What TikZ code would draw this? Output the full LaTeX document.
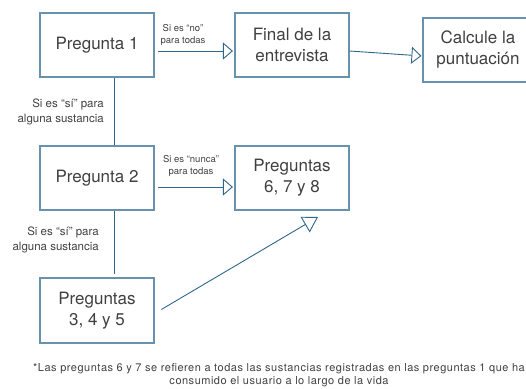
\documentclass[tikz,border=0pt]{standalone}
\usepackage{fontspec}
\setmainfont{TeX Gyre Heros}
\newfontfamily\widefont[LetterSpace=4.6]{TeX Gyre Heros}
\usetikzlibrary{arrows.meta}
\definecolor{boxblue}{RGB}{104,146,172}
\definecolor{lineblue}{RGB}{46,102,138}
\definecolor{textgray}{RGB}{64,64,64}

\begin{document}
\begin{tikzpicture}[x=1pt, y=-1pt,
    box/.style={draw=boxblue, line width=1.1pt, minimum width=114pt, minimum height=64pt,
      align=center, text=textgray, font=\fontsize{17}{21}\selectfont, inner sep=0pt},
    flow/.style={draw=lineblue, line width=0.9pt},
    opentip/.style={-{Triangle[open, length=10pt, width=17pt]}},
    bigtip/.style={-{Triangle[open, length=15pt, width=18pt]}},
    cond/.style={text=textgray, font=\fontsize{9.5}{12}\selectfont, align=center, inner sep=0pt},
    condleft/.style={text=textgray, font=\fontsize{11.5}{15}\selectfont, align=right,
      inner sep=0pt, anchor=east},
    note/.style={text=textgray, font=\widefont\fontsize{11}{13}\selectfont, align=center, inner sep=0pt}]
  \useasboundingbox (0,0) rectangle (526,388);

  % Question boxes
  \node[box] (p1) at (97,45) {Pregunta 1};
  \node[box] (fin) at (292,45) {Final de la\\entrevista};
  \node[box, minimum width=110pt] (calc) at (478,50) {Calcule la\\puntuación};
  \node[box] (p2) at (97,178) {Pregunta 2};
  \node[box] (p678) at (292,178) {Preguntas\\6, 7 y 8};
  \node[box, minimum height=65pt] (p345) at (97,310.5) {Preguntas\\3, 4 y 5};

  % Horizontal arrows
  \draw[flow, opentip, shorten <=3pt, shorten >=1.5pt] ([yshift=-6pt]p1.east) -- ([yshift=-6pt]fin.west);
  \draw[flow, opentip, shorten >=1pt] ([yshift=-6pt]fin.east) -- ([yshift=-6pt]calc.west);
  \draw[flow, opentip, shorten <=3pt, shorten >=1.5pt] ([yshift=-9pt]p2.east) -- ([yshift=-9pt]p678.west);

  % Vertical links
  \draw[flow] ([xshift=17pt]p1.south) -- ([xshift=17pt]p2.north);
  \draw[flow, shorten >=3pt] ([xshift=17pt]p2.south) -- ([xshift=17pt]p345.north);

  % Diagonal arrow, stops short of the box
  \coordinate (tip678) at (318,217);
  \draw[flow, bigtip, shorten <=8pt] ([yshift=-3pt]p345.east) -- (tip678);

  % Conditions
  \node[cond] (no) at (183,35) {Si es “no”\\para todas};
  \node[cond] (nunca) at (191,166) {Si es “nunca”\\para todas};
  \node[condleft] (si1) at (104,112) {Si es “sí” para\\alguna sustancia};
  \node[condleft] (si2) at (99,240) {Si es “sí” para\\alguna sustancia};

  % Footnote
  \node[note] (nota) at (279,375) {*Las preguntas 6 y 7 se refieren a todas las sustancias registradas en las preguntas 1 que ha\\consumido el usuario a lo largo de la vida};
\end{tikzpicture}
\end{document}
